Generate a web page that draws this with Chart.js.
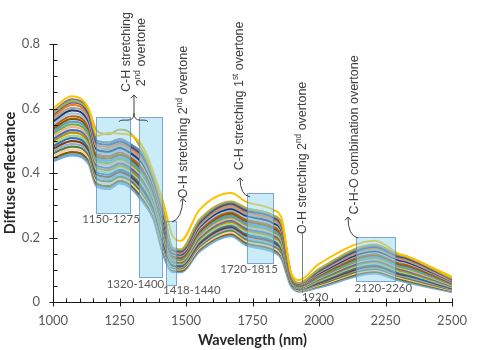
<!DOCTYPE html>
<html>
<head>
<meta charset="utf-8">
<title>Diffuse reflectance spectra</title>
<script src="https://cdn.jsdelivr.net/npm/chart.js@4.4.1/dist/chart.umd.min.js"></script>
<style>
  html, body { margin: 0; padding: 0; background: #fff; }
</style>
</head>
<body>
<canvas id="spectra" width="480" height="350"></canvas>
<script>
// Wavelength grid (nm) shared by every spectrum
const wavelengths = [1000, 1070, 1135, 1165, 1210, 1250, 1290, 1340, 1380, 1415, 1450, 1480,
  1550, 1670, 1725, 1830, 1860, 1895, 1925, 2000, 2210, 2300, 2330, 2500];

// Two spectra that sit apart from the rest
const yellowSpectrum = [0.600, 0.638, 0.598, 0.515, 0.525, 0.522, 0.518, 0.478, 0.395, 0.307, 0.205, 0.190,
  0.285, 0.338, 0.311, 0.285, 0.258, 0.090, 0.068, 0.118, 0.190, 0.150, 0.142, 0.078];
const oliveSpectrum = [0.585, 0.622, 0.592, 0.530, 0.520, 0.535, 0.525, 0.462, 0.385, 0.285, 0.168, 0.163,
  0.255, 0.312, 0.292, 0.268, 0.242, 0.086, 0.059, 0.103, 0.178, 0.147, 0.141, 0.073];

// Main bundle of samples, top to bottom
const bundleSpectra = [
  [0.590, 0.628, 0.590, 0.500, 0.495, 0.505, 0.490, 0.455, 0.380, 0.280, 0.165, 0.160, 0.250, 0.310, 0.290, 0.266, 0.240, 0.085, 0.058, 0.100, 0.175, 0.145, 0.140, 0.072],
  [0.582, 0.619, 0.582, 0.493, 0.488, 0.498, 0.483, 0.448, 0.374, 0.274, 0.162, 0.157, 0.245, 0.305, 0.284, 0.261, 0.235, 0.083, 0.057, 0.097, 0.171, 0.141, 0.136, 0.070],
  [0.575, 0.611, 0.574, 0.486, 0.481, 0.491, 0.477, 0.441, 0.368, 0.267, 0.158, 0.153, 0.241, 0.300, 0.279, 0.255, 0.230, 0.082, 0.056, 0.095, 0.167, 0.137, 0.132, 0.068],
  [0.567, 0.602, 0.566, 0.479, 0.474, 0.485, 0.470, 0.433, 0.361, 0.261, 0.155, 0.150, 0.236, 0.294, 0.273, 0.250, 0.224, 0.080, 0.054, 0.092, 0.162, 0.134, 0.128, 0.066],
  [0.560, 0.594, 0.558, 0.472, 0.466, 0.478, 0.463, 0.426, 0.355, 0.254, 0.151, 0.147, 0.232, 0.289, 0.268, 0.244, 0.219, 0.078, 0.053, 0.089, 0.158, 0.130, 0.124, 0.064],
  [0.552, 0.585, 0.550, 0.465, 0.459, 0.471, 0.457, 0.419, 0.349, 0.248, 0.148, 0.144, 0.227, 0.284, 0.262, 0.239, 0.214, 0.077, 0.052, 0.087, 0.154, 0.126, 0.121, 0.062],
  [0.544, 0.576, 0.542, 0.458, 0.452, 0.464, 0.450, 0.412, 0.343, 0.241, 0.144, 0.140, 0.222, 0.279, 0.256, 0.233, 0.209, 0.075, 0.051, 0.084, 0.150, 0.122, 0.117, 0.060],
  [0.537, 0.568, 0.534, 0.451, 0.445, 0.457, 0.444, 0.404, 0.336, 0.235, 0.141, 0.137, 0.218, 0.274, 0.251, 0.228, 0.204, 0.074, 0.050, 0.082, 0.145, 0.118, 0.113, 0.058],
  [0.529, 0.559, 0.526, 0.444, 0.438, 0.451, 0.437, 0.397, 0.330, 0.228, 0.137, 0.134, 0.213, 0.268, 0.245, 0.222, 0.198, 0.072, 0.048, 0.079, 0.141, 0.114, 0.109, 0.056],
  [0.522, 0.551, 0.518, 0.437, 0.431, 0.444, 0.430, 0.390, 0.324, 0.222, 0.134, 0.130, 0.209, 0.263, 0.240, 0.217, 0.193, 0.070, 0.047, 0.076, 0.137, 0.110, 0.105, 0.054],
  [0.514, 0.542, 0.510, 0.430, 0.424, 0.437, 0.424, 0.383, 0.318, 0.215, 0.130, 0.127, 0.204, 0.258, 0.234, 0.211, 0.188, 0.069, 0.046, 0.074, 0.133, 0.107, 0.101, 0.052],
  [0.506, 0.533, 0.502, 0.423, 0.416, 0.430, 0.417, 0.375, 0.311, 0.209, 0.127, 0.124, 0.199, 0.253, 0.228, 0.206, 0.183, 0.067, 0.045, 0.071, 0.128, 0.103, 0.097, 0.050],
  [0.499, 0.525, 0.494, 0.416, 0.409, 0.423, 0.410, 0.368, 0.305, 0.202, 0.123, 0.120, 0.195, 0.248, 0.223, 0.200, 0.178, 0.065, 0.044, 0.068, 0.124, 0.099, 0.093, 0.048],
  [0.491, 0.516, 0.486, 0.409, 0.402, 0.417, 0.404, 0.361, 0.299, 0.196, 0.120, 0.117, 0.190, 0.242, 0.217, 0.195, 0.172, 0.064, 0.042, 0.066, 0.120, 0.095, 0.089, 0.046],
  [0.484, 0.508, 0.478, 0.402, 0.395, 0.410, 0.397, 0.354, 0.293, 0.189, 0.116, 0.114, 0.186, 0.237, 0.212, 0.189, 0.167, 0.062, 0.041, 0.063, 0.116, 0.091, 0.085, 0.044],
  [0.476, 0.499, 0.470, 0.395, 0.388, 0.403, 0.390, 0.346, 0.286, 0.183, 0.113, 0.111, 0.181, 0.232, 0.206, 0.184, 0.162, 0.060, 0.040, 0.060, 0.111, 0.087, 0.082, 0.042],
  [0.468, 0.490, 0.462, 0.388, 0.381, 0.396, 0.384, 0.339, 0.280, 0.176, 0.109, 0.107, 0.176, 0.227, 0.200, 0.178, 0.157, 0.059, 0.039, 0.058, 0.107, 0.083, 0.078, 0.040],
  [0.461, 0.482, 0.454, 0.381, 0.374, 0.389, 0.377, 0.332, 0.274, 0.170, 0.106, 0.104, 0.172, 0.222, 0.195, 0.173, 0.152, 0.057, 0.038, 0.055, 0.103, 0.080, 0.074, 0.038],
  [0.453, 0.473, 0.446, 0.374, 0.366, 0.383, 0.370, 0.325, 0.268, 0.163, 0.102, 0.101, 0.167, 0.216, 0.189, 0.167, 0.146, 0.055, 0.036, 0.052, 0.099, 0.076, 0.070, 0.036],
  [0.446, 0.465, 0.438, 0.367, 0.359, 0.376, 0.364, 0.317, 0.261, 0.157, 0.099, 0.097, 0.163, 0.211, 0.184, 0.162, 0.141, 0.054, 0.035, 0.050, 0.094, 0.072, 0.066, 0.034],
  [0.438, 0.456, 0.430, 0.360, 0.352, 0.369, 0.357, 0.310, 0.255, 0.150, 0.095, 0.094, 0.158, 0.206, 0.178, 0.156, 0.136, 0.052, 0.034, 0.047, 0.090, 0.068, 0.062, 0.032]
];

const bundleColors = ['#6E7F8F', '#2F5597', '#ED7D31', '#A5A5A5', '#1F3864', '#9DC3E6', '#C55A11',
  '#7F6000', '#5B9BD5', '#70AD47', '#F4B183', '#4472C4', '#BF9000', '#A9D18E', '#2E75B6',
  '#843C0C', '#8FAADC', '#548235', '#F8CBAD', '#806000', '#6FA8DC'];

// Axis ticks
const xTicks = [1000, 1250, 1500, 1750, 2000, 2250, 2500];
const yTicks = [0, 0.2, 0.4, 0.6, 0.8];
const xMinorStep = 50;
const yMinorStep = 0.05;

// Shaded absorption bands and their labels (data units)
const bands = [
  { x0: 1160, x1: 1288, y0: 0.275, y1: 0.573 },
  { x0: 1324, x1: 1409, y0: 0.0775, y1: 0.573 },
  { x0: 1425, x1: 1462, y0: 0.053, y1: 0.251 },
  { x0: 1728, x1: 1828, y0: 0.122, y1: 0.337 },
  { x0: 2139, x1: 2285, y0: 0.065, y1: 0.2025 }
];
const bandLabels = [
  { text: '1150-1275', x: 1218, y: 0.257 },
  { text: '1320-1400', x: 1310, y: 0.056 },
  { text: '1418-1440', x: 1522, y: 0.037 },
  { text: '1720-1815', x: 1737, y: 0.102 },
  { text: '1920', x: 1985, y: 0.016 },
  { text: '2120-2260', x: 2242, y: 0.043 }
];

// Rotated assignment notes, [text, superscript?] parts, centred on x/y
const notes = [
  { x: 1278, y: 0.775, parts: [['C-H stretching']] },
  { x: 1334, y: 0.775, parts: [['2'], ['nd', true], [' overtone']] },
  { x: 1492, y: 0.558, parts: [['O-H stretching 2'], ['nd', true], [' overtone']] },
  { x: 1703, y: 0.639, parts: [['C-H stretching 1'], ['st', true], [' overtone']] },
  { x: 1940, y: 0.447, parts: [['O-H stretching 2'], ['nd', true], [' overtone']] },
  { x: 2135, y: 0.518, parts: [['C-H-O combination overtone']] }
];

const arrows = [
  { tip: [1304.5, 0.642], ctrl: null, end: [1304.5, 0.586] },
  { tip: [1488.7, 0.321], ctrl: [1485, 0.2574], end: [1447.4, 0.248] },
  { tip: [1703, 0.385], ctrl: [1703, 0.3318], end: [1740.6, 0.3256] },
  { tip: [2109, 0.2636], ctrl: [2109, 0.2047], end: [2146.6, 0.1984] }
];
const brace = { x0: 1248, x1: 1357, xMid: 1304.5, y: 0.564, yTip: 0.586 };
const waterLine = { x: 1936, y0: 0.028, y1: 0.214 };

const toPoints = values => values.map((v, i) => ({ x: wavelengths[i], y: v }));

const datasets = [
  { label: 'outlier 1', data: toPoints(yellowSpectrum), borderColor: '#FFC000', borderWidth: 2 },
  { label: 'outlier 2', data: toPoints(oliveSpectrum), borderColor: '#B4AE3C', borderWidth: 2 }
].concat(bundleSpectra.map((s, i) => ({
  label: 'sample ' + (i + 1),
  data: toPoints(s),
  borderColor: bundleColors[i],
  borderWidth: i === bundleSpectra.length - 1 ? 3.2 : 2.2
})));

datasets.forEach(d => {
  d.pointRadius = 0;
  d.fill = false;
  d.cubicInterpolationMode = 'monotone';
});

// Axis lines with crossing major ticks and inside minor ticks
const axisMarks = {
  id: 'axisMarks',
  afterDatasetsDraw(chart) {
    const { ctx, chartArea: a, scales: { x, y } } = chart;
    const ax = Math.round(a.left) + 0.5;
    const ay = Math.round(a.bottom) + 0.5;
    ctx.save();
    ctx.strokeStyle = '#1a1a1a';
    ctx.lineWidth = 1;
    ctx.beginPath();
    ctx.moveTo(ax, a.top);
    ctx.lineTo(ax, ay);
    ctx.lineTo(a.right, ay);
    for (let v = x.min; v <= x.max; v += xMinorStep) {
      const p = Math.round(x.getPixelForValue(v)) + 0.5;
      const major = xTicks.includes(v);
      ctx.moveTo(p, ay - 4);
      ctx.lineTo(p, major ? ay + 4 : ay);
    }
    for (let i = 0; i * yMinorStep <= y.max + 1e-9; i++) {
      const v = +(i * yMinorStep).toFixed(2);
      const p = Math.round(y.getPixelForValue(v)) + 0.5;
      const major = yTicks.includes(v);
      ctx.moveTo(ax + 4, p);
      ctx.lineTo(major ? ax - 4 : ax, p);
    }
    ctx.stroke();
    ctx.restore();
  }
};

function drawVertical(ctx, parts, cx, cy, size) {
  const fontFor = sup => (sup ? size * 0.66 : size) + 'px "Liberation Sans", Arial, sans-serif';
  ctx.save();
  ctx.translate(cx, cy);
  ctx.rotate(-Math.PI / 2);
  ctx.textBaseline = 'middle';
  ctx.textAlign = 'left';
  let total = 0;
  parts.forEach(p => { ctx.font = fontFor(p[1]); total += ctx.measureText(p[0]).width; });
  let pos = -total / 2;
  parts.forEach(p => {
    ctx.font = fontFor(p[1]);
    ctx.fillText(p[0], pos, p[1] ? -size * 0.33 : 0);
    pos += ctx.measureText(p[0]).width;
  });
  ctx.restore();
}

function arrowHead(ctx, tx, ty, fx, fy) {
  const ang = Math.atan2(fy - ty, fx - tx);
  const len = 4.5;
  ctx.beginPath();
  ctx.moveTo(tx + len * Math.cos(ang - 0.75), ty + len * Math.sin(ang - 0.75));
  ctx.lineTo(tx, ty);
  ctx.lineTo(tx + len * Math.cos(ang + 0.75), ty + len * Math.sin(ang + 0.75));
  ctx.stroke();
}

const annotations = {
  id: 'annotations',
  afterDatasetsDraw(chart) {
    const { ctx, scales: { x, y } } = chart;
    const px = v => x.getPixelForValue(v);
    const py = v => y.getPixelForValue(v);
    ctx.save();

    bands.forEach(b => {
      const l = Math.round(px(b.x0)) + 0.5, r = Math.round(px(b.x1)) + 0.5;
      const t = Math.round(py(b.y1)) + 0.5, bt = Math.round(py(b.y0)) + 0.5;
      ctx.fillStyle = 'rgba(150, 215, 242, 0.5)';
      ctx.fillRect(l, t, r - l, bt - t);
      ctx.strokeStyle = 'rgba(90, 140, 195, 0.75)';
      ctx.lineWidth = 1;
      ctx.strokeRect(l, t, r - l, bt - t);
    });

    ctx.fillStyle = '#595959';
    ctx.font = '11.5px Lato, sans-serif';
    ctx.textAlign = 'center';
    ctx.textBaseline = 'middle';
    bandLabels.forEach(l => ctx.fillText(l.text, px(l.x), py(l.y)));

    ctx.fillStyle = '#404040';
    notes.forEach(n => drawVertical(ctx, n.parts, px(n.x), py(n.y), 12.5));

    ctx.strokeStyle = '#404040';
    ctx.lineWidth = 1;
    arrows.forEach(a => {
      const tx = px(a.tip[0]), ty = py(a.tip[1]);
      const ex = px(a.end[0]), ey = py(a.end[1]);
      ctx.beginPath();
      ctx.moveTo(tx, ty);
      if (a.ctrl) {
        ctx.quadraticCurveTo(px(a.ctrl[0]), py(a.ctrl[1]), ex, ey);
      } else {
        ctx.lineTo(ex, ey);
      }
      ctx.stroke();
      const from = a.ctrl ? [px(a.ctrl[0]), py(a.ctrl[1])] : [ex, ey];
      arrowHead(ctx, tx, ty, from[0], from[1]);
    });

    // curly brace over the two C-H bands
    const bl = px(brace.x0), br = px(brace.x1), bm = px(brace.xMid);
    const by = py(brace.y), bt = py(brace.yTip);
    ctx.beginPath();
    ctx.moveTo(bl, by + 1.5);
    ctx.quadraticCurveTo(bl + 1, by, bl + 4, by);
    ctx.lineTo(bm - 6, by);
    ctx.quadraticCurveTo(bm, by, bm, bt);
    ctx.quadraticCurveTo(bm, by, bm + 6, by);
    ctx.lineTo(br - 4, by);
    ctx.quadraticCurveTo(br - 1, by, br, by + 1.5);
    ctx.stroke();

    // water band marker
    ctx.strokeStyle = '#7f7f7f';
    ctx.beginPath();
    const wx = Math.round(px(waterLine.x)) + 0.5;
    ctx.moveTo(wx, py(waterLine.y1));
    ctx.lineTo(wx, py(waterLine.y0));
    ctx.stroke();

    ctx.restore();
  }
};

new Chart(document.getElementById('spectra').getContext('2d'), {
  type: 'line',
  data: { datasets: datasets },
  options: {
    responsive: false,
    animation: false,
    devicePixelRatio: 1,
    layout: { padding: { top: 44, right: 28, left: 0, bottom: 0 } },
    plugins: {
      legend: { display: false },
      tooltip: { enabled: false }
    },
    scales: {
      x: {
        type: 'linear',
        min: 1000,
        max: 2500,
        afterFit: scale => { scale.height = 48; },
        afterBuildTicks: scale => { scale.ticks = xTicks.map(v => ({ value: v })); },
        grid: { display: false, drawTicks: false },
        border: { display: false },
        ticks: {
          padding: 11,
          color: '#595959',
          font: { family: 'Lato', size: 13 },
          callback: v => String(v)
        },
        title: {
          display: true,
          text: 'Wavelength (nm)',
          color: '#262626',
          font: { family: 'Lato', size: 14.5, weight: 'bold' },
          padding: { top: 0, bottom: 1 }
        }
      },
      y: {
        min: 0,
        max: 0.8,
        afterFit: scale => { scale.width = 53; },
        afterBuildTicks: scale => { scale.ticks = yTicks.map(v => ({ value: v })); },
        grid: { display: false, drawTicks: false },
        border: { display: false },
        ticks: {
          padding: 13,
          color: '#595959',
          font: { family: 'Lato', size: 13 },
          callback: v => String(v)
        },
        title: {
          display: true,
          text: 'Diffuse reflectance',
          color: '#262626',
          font: { family: 'Lato', size: 14.5, weight: 'bold' },
          padding: { top: 2, bottom: 0 }
        }
      }
    }
  },
  plugins: [axisMarks, annotations]
});
</script>
</body>
</html>
